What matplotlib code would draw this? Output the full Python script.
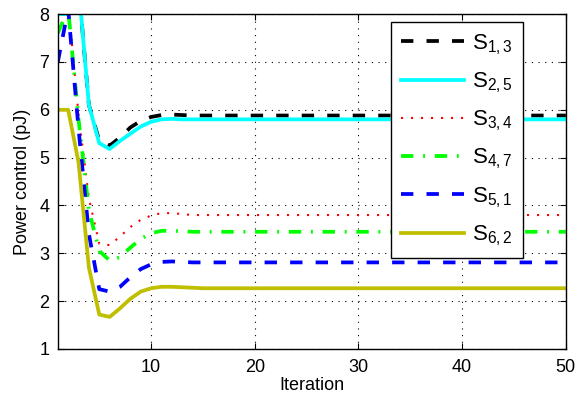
import matplotlib
matplotlib.use("Agg")
import matplotlib.pyplot as plt
import numpy as np

plt.rcParams['font.family'] = ['Liberation Sans', 'DejaVu Sans']
plt.rcParams['mathtext.fontset'] = 'custom'
plt.rcParams['mathtext.rm'] = 'Liberation Sans'
plt.rcParams['mathtext.it'] = 'Liberation Sans'

# Iterations
iteration = list(range(1, 51))

# Power control values (pJ)
s13 = [8.6, 8.6, 8.6, 6.1, 5.35, 5.25, 5.42, 5.63, 5.77, 5.85,
       5.89, 5.90, 5.89, 5.88, 5.88, 5.88, 5.88, 5.88, 5.88, 5.88,
       5.88, 5.88, 5.88, 5.88, 5.88, 5.88, 5.88, 5.88, 5.88, 5.88,
       5.88, 5.88, 5.88, 5.88, 5.88, 5.88, 5.88, 5.88, 5.88, 5.88,
       5.88, 5.88, 5.88, 5.88, 5.88, 5.88, 5.88, 5.88, 5.88, 5.88]
s25 = [8.0, 8.0, 8.6, 6.1, 5.30, 5.18, 5.35, 5.50, 5.65, 5.75,
       5.80, 5.81, 5.80, 5.80, 5.80, 5.80, 5.80, 5.80, 5.80, 5.80,
       5.80, 5.80, 5.80, 5.80, 5.80, 5.80, 5.80, 5.80, 5.80, 5.80,
       5.80, 5.80, 5.80, 5.80, 5.80, 5.80, 5.80, 5.80, 5.80, 5.80,
       5.80, 5.80, 5.80, 5.80, 5.80, 5.80, 5.80, 5.80, 5.80, 5.80]
s34 = [8.2, 8.2, 5.9, 4.15, 3.20, 3.17, 3.35, 3.55, 3.70, 3.79,
       3.84, 3.84, 3.82, 3.80, 3.80, 3.80, 3.80, 3.80, 3.80, 3.80,
       3.80, 3.80, 3.80, 3.80, 3.80, 3.80, 3.80, 3.80, 3.80, 3.80,
       3.80, 3.80, 3.80, 3.80, 3.80, 3.80, 3.80, 3.80, 3.80, 3.80,
       3.80, 3.80, 3.80, 3.80, 3.80, 3.80, 3.80, 3.80, 3.80, 3.80]
s47 = [7.6, 8.1, 5.8, 3.9, 3.05, 2.85, 2.92, 3.12, 3.30, 3.42,
       3.47, 3.47, 3.46, 3.45, 3.45, 3.45, 3.45, 3.45, 3.45, 3.45,
       3.45, 3.45, 3.45, 3.45, 3.45, 3.45, 3.45, 3.45, 3.45, 3.45,
       3.45, 3.45, 3.45, 3.45, 3.45, 3.45, 3.45, 3.45, 3.45, 3.45,
       3.45, 3.45, 3.45, 3.45, 3.45, 3.45, 3.45, 3.45, 3.45, 3.45]
s51 = [7.0, 8.1, 5.6, 3.4, 2.25, 2.20, 2.30, 2.50, 2.67, 2.77,
       2.82, 2.83, 2.82, 2.81, 2.81, 2.81, 2.81, 2.81, 2.81, 2.81,
       2.81, 2.81, 2.81, 2.81, 2.81, 2.81, 2.81, 2.81, 2.81, 2.81,
       2.81, 2.81, 2.81, 2.81, 2.81, 2.81, 2.81, 2.81, 2.81, 2.81,
       2.81, 2.81, 2.81, 2.81, 2.81, 2.81, 2.81, 2.81, 2.81, 2.81]
s62 = [6.0, 6.0, 4.9, 2.7, 1.72, 1.67, 1.85, 2.05, 2.20, 2.27,
       2.30, 2.30, 2.29, 2.28, 2.27, 2.27, 2.27, 2.27, 2.27, 2.27,
       2.27, 2.27, 2.27, 2.27, 2.27, 2.27, 2.27, 2.27, 2.27, 2.27,
       2.27, 2.27, 2.27, 2.27, 2.27, 2.27, 2.27, 2.27, 2.27, 2.27,
       2.27, 2.27, 2.27, 2.27, 2.27, 2.27, 2.27, 2.27, 2.27, 2.27]

labels = ["S$_{1,3}$", "S$_{2,5}$", "S$_{3,4}$", "S$_{4,7}$", "S$_{5,1}$", "S$_{6,2}$"]

fig = plt.figure(figsize=(5.78, 4.03), dpi=100)
ax = fig.add_axes([0.100, 0.134, 0.879, 0.831])

ax.plot(iteration, s13, color="black", lw=2.7, dashes=(3.3, 3.5), label=labels[0])
ax.plot(iteration, s25, color="cyan", lw=2.7, linestyle="-", label=labels[1])
ax.plot(iteration, s34, color="red", lw=1.5, dashes=(1.0, 3.8), label=labels[2])
ax.plot(iteration, s47, color="#00ff00", lw=2.7, dashes=(3.3, 2.6, 0.5, 2.6), label=labels[3])
ax.plot(iteration, s51, color="blue", lw=2.7, dashes=(3.3, 3.5), label=labels[4])
ax.plot(iteration, s62, color="#bfbf00", lw=2.7, linestyle="-", label=labels[5])

ax.set_xlim(1, 50)
ax.set_ylim(1, 8)
ax.set_xticks([10, 20, 30, 40, 50])
ax.set_yticks([1, 2, 3, 4, 5, 6, 7, 8])
ax.grid(True, color="black", linestyle=(0, (1, 5)), linewidth=0.8)
ax.tick_params(direction="in", top=True, right=True, labelsize=13, length=4)
ax.tick_params(axis="x", pad=7)
ax.tick_params(axis="y", pad=6)
for sp in ax.spines.values():
    sp.set_linewidth(1.0)

ax.set_xlabel("Iteration", fontsize=13, labelpad=1)
ax.set_ylabel("Power control (pJ)", fontsize=13, labelpad=6)

leg = ax.legend(loc="upper right", bbox_to_anchor=(0.915, 0.976), borderaxespad=0,
                fontsize=16, fancybox=False, framealpha=1, edgecolor="black",
                handlelength=2.85, handletextpad=0.35, labelspacing=0.62,
                borderpad=0.45)
leg.get_frame().set_linewidth(1.0)

fig.savefig("out.png", dpi=100)
